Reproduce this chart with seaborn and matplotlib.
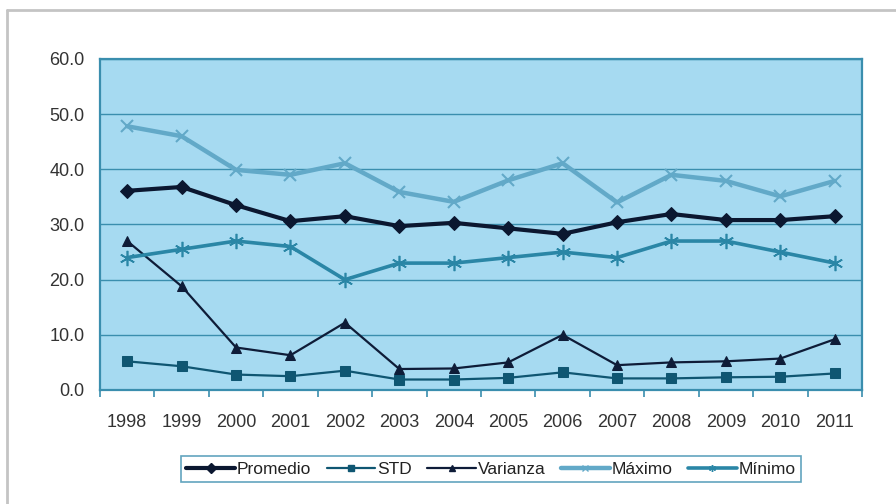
import numpy as np
import pandas as pd
import matplotlib
matplotlib.use("Agg")
import matplotlib.pyplot as plt
from matplotlib.lines import Line2D
import seaborn as sns

years = ["1998", "1999", "2000", "2001", "2002", "2003", "2004",
         "2005", "2006", "2007", "2008", "2009", "2010", "2011"]
promedio = [36.1, 36.8, 33.5, 30.6, 31.5, 29.7, 30.3, 29.3, 28.3, 30.4, 31.9, 30.8, 30.8, 31.5]
std = [5.2, 4.3, 2.8, 2.5, 3.5, 1.9, 1.9, 2.2, 3.2, 2.1, 2.1, 2.3, 2.4, 3.0]
varianza = [27.0, 18.8, 7.7, 6.3, 12.2, 3.8, 3.9, 5.0, 10.0, 4.5, 5.0, 5.2, 5.7, 9.2]
maximo = [47.8, 46.0, 39.9, 39.0, 41.1, 35.9, 34.1, 38.0, 41.1, 34.0, 39.0, 37.9, 35.1, 37.9]
minimo = [24.0, 25.5, 27.0, 26.0, 20.0, 23.0, 23.0, 24.0, 25.0, 24.0, 27.0, 27.0, 25.0, 23.0]

sns.set_style("white")
plt.rcParams['font.family'] = ['Liberation Sans', 'DejaVu Sans']

fig = plt.figure(figsize=(8.96, 5.04), dpi=100)
ax = fig.add_axes([0.1116, 0.2262, 0.8504, 0.6568])

teal = "#3a8eae"
ax.set_facecolor("#a6daf1")

x = np.arange(len(years))
# estilo de cada serie
series = [
    ("Promedio", promedio, "#0b1730", "D", 7, 3.0, {}),
    ("STD", std, "#0f5672", "s", 7, 1.6, {}),
    ("Varianza", varianza, "#0e1c38", "^", 7, 1.6, {}),
    ("Máximo", maximo, "#62a9c8", "x", 9, 3.2, {"markeredgewidth": 1.5}),
    ("Mínimo", minimo, "#2a86a6", (6, 2, 0), 11, 2.6, {"markeredgewidth": 1.2}),
]
proxies = []
for name, vals, col, mk, ms, lw, extra in series:
    sns.lineplot(x=x, y=vals, ax=ax, color=col, marker=mk, markersize=ms,
                 linewidth=lw, markeredgecolor=col, **extra)
    proxies.append(Line2D([], [], color=col, marker=mk, markersize=5,
                          linewidth=lw, markeredgecolor=col, label=name))

ax.set_ylim(0, 60)
ax.set_yticks(np.arange(0, 61, 10))
ax.set_yticklabels([f"{v:.1f}" for v in np.arange(0, 61, 10)])
ax.set_xlim(-0.5, len(years) - 0.5)
ax.set_xticks(x)
ax.set_xticklabels(years)
ax.set_xticks(np.arange(-0.5, len(years), 1), minor=True)
ax.tick_params(axis="x", which="major", length=0, pad=17, labelsize=13, labelcolor="#333333")
ax.tick_params(axis="x", which="minor", length=5, color=teal, width=1.2, direction="out", bottom=True)
ax.tick_params(axis="y", length=0, pad=11, labelsize=13, labelcolor="#333333")
ax.grid(axis="y", color=teal, linewidth=1.0)
ax.set_axisbelow(True)
for sp in ax.spines.values():
    sp.set_visible(True)
    sp.set_color(teal)
    sp.set_linewidth(1.6)

leg = fig.legend(handles=proxies, loc="center", bbox_to_anchor=(0.548, 0.069), ncol=5,
                 frameon=True, fancybox=False, fontsize=12.5, handlelength=2.8,
                 handletextpad=0.1, columnspacing=0.9, borderpad=0.3)
leg.get_frame().set_edgecolor(teal)
leg.get_frame().set_linewidth(1.2)
for t in leg.get_texts():
    t.set_color("#222222")

# marco gris del gráfico
fig.add_artist(Line2D([7 / 896, 7 / 896], [0, 1 - 10 / 504], color="#c4c4c4", lw=2))
fig.add_artist(Line2D([7 / 896, 1], [1 - 10 / 504, 1 - 10 / 504], color="#c4c4c4", lw=2))

fig.savefig("out.png", dpi=100)
